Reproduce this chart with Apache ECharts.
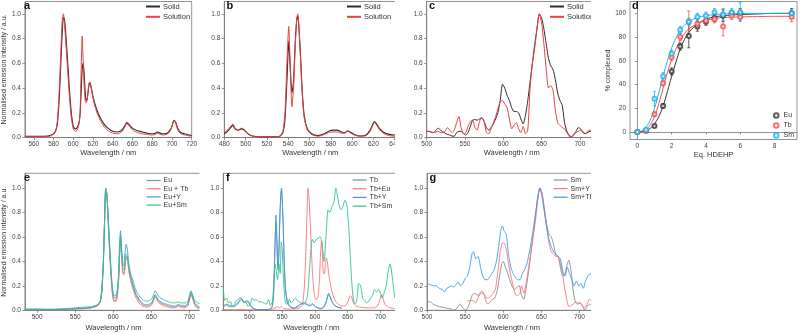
<!DOCTYPE html>
<html>
<head>
<meta charset="utf-8">
<script src="https://cdn.jsdelivr.net/npm/echarts@6/dist/echarts.min.js"></script>
<style>
  html, body { margin: 0; background: #fff; }
  #chart { width: 800px; height: 334px; }
</style>
</head>
<body>
<div id="chart"></div>
<script>
// ---- tick labels ----
var intensityTicks = [0, 0.2, 0.4, 0.6, 0.8, 1.0];
var aTicks = [560, 580, 600, 620, 640, 660, 680, 700, 720];
var bTicks = [480, 500, 520, 540, 560, 580, 600, 620, 640];
var wide50Ticks = [500, 550, 600, 650, 700];
var dxTicks = [0, 2, 4, 6, 8];
var dyTicks = [0, 20, 40, 60, 80, 100];

// ---- a: Eu, solid vs solution ----
var aWl = [551, 560, 570, 578, 582, 584, 586, 588, 589, 590, 591, 592, 594, 596, 598, 600, 602, 604, 606, 607,
  608, 609, 610, 611, 612, 613, 614, 615, 616, 617, 618, 620, 622, 625, 628, 632, 636, 640, 645, 649,
  652, 654, 656, 658, 661, 665, 670, 675, 680, 683, 685, 687, 690, 695, 698, 700, 702, 704, 706, 709, 713, 720];
var aSolid = [0.01, 0.01, 0.01, 0.02, 0.05, 0.12, 0.35, 0.72, 0.88, 0.97, 0.96, 0.88, 0.65, 0.4, 0.2, 0.09, 0.07, 0.08, 0.13, 0.2,
  0.38, 0.55, 0.6, 0.52, 0.37, 0.3, 0.31, 0.37, 0.43, 0.44, 0.41, 0.33, 0.27, 0.2, 0.15, 0.1, 0.07, 0.05, 0.045, 0.06,
  0.09, 0.12, 0.11, 0.09, 0.07, 0.055, 0.045, 0.035, 0.03, 0.035, 0.045, 0.04, 0.03, 0.035, 0.06, 0.09, 0.14, 0.12, 0.07, 0.04, 0.03, 0.015];
var aSolution = [0.005, 0.005, 0.005, 0.015, 0.05, 0.14, 0.42, 0.82, 0.97, 1.0, 0.93, 0.82, 0.58, 0.34, 0.16, 0.07, 0.05, 0.06, 0.12, 0.22,
  0.55, 0.82, 0.62, 0.42, 0.3, 0.28, 0.3, 0.37, 0.44, 0.45, 0.41, 0.32, 0.25, 0.18, 0.13, 0.08, 0.05, 0.035, 0.03, 0.045,
  0.08, 0.11, 0.1, 0.08, 0.055, 0.04, 0.03, 0.025, 0.02, 0.025, 0.035, 0.03, 0.02, 0.025, 0.05, 0.09, 0.14, 0.11, 0.06, 0.03, 0.02, 0.01];

// ---- b: Tb, solid vs solution ----
var bWl = [480, 483, 486, 488, 490, 493, 496, 498, 501, 504, 508, 515, 525, 532, 535, 537, 539, 540.5, 542, 543.5,
  545, 546.5, 548, 549, 550, 551.5, 553, 555, 558, 562, 568, 574, 578, 582, 586, 590, 593, 596, 598, 602,
  608, 613, 617, 619, 621, 623, 626, 630, 635, 640, 646];
var bSolid = [0.03, 0.05, 0.08, 0.1, 0.07, 0.06, 0.07, 0.065, 0.04, 0.02, 0.01, 0.005, 0.005, 0.01, 0.04, 0.15, 0.5, 0.78, 0.55, 0.36,
  0.45, 0.75, 0.95, 0.98, 0.9, 0.68, 0.4, 0.18, 0.07, 0.03, 0.015, 0.03, 0.05, 0.06, 0.06, 0.045, 0.04, 0.055, 0.045, 0.025,
  0.012, 0.02, 0.06, 0.1, 0.13, 0.11, 0.07, 0.04, 0.025, 0.02, 0.02];
var bSolution = [0.04, 0.06, 0.09, 0.11, 0.08, 0.06, 0.075, 0.07, 0.04, 0.02, 0.008, 0.004, 0.004, 0.01, 0.05, 0.2, 0.65, 0.9, 0.55, 0.25,
  0.4, 0.72, 0.97, 1.0, 0.9, 0.65, 0.38, 0.16, 0.06, 0.025, 0.01, 0.025, 0.04, 0.045, 0.045, 0.035, 0.035, 0.05, 0.04, 0.02,
  0.01, 0.015, 0.05, 0.09, 0.12, 0.1, 0.06, 0.03, 0.015, 0.01, 0.01];

// ---- c: Sm, solid vs solution ----
var cWl = [500, 503, 506, 509, 512, 515, 518, 521, 524, 527, 530, 533, 536, 539, 542, 545, 548, 551, 554, 557,
  560, 563, 566, 569, 572, 575, 578, 581, 584, 587, 590, 593, 596, 599, 602, 605, 608, 611, 614, 617,
  620, 623, 626, 629, 632, 635, 638, 641, 644, 647, 650, 653, 656, 659, 662, 665, 668, 671, 674, 677,
  680, 683, 686, 689, 692, 695, 698, 701, 704, 707, 710, 713, 716];
var cSolid = [0.05, 0.05, 0.045, 0.04, 0.06, 0.075, 0.06, 0.045, 0.035, 0.025, 0.02, 0.012, 0.01, 0.04, 0.05, 0.05, 0.035, 0.02, 0.04, 0.09,
  0.14, 0.145, 0.14, 0.15, 0.16, 0.13, 0.08, 0.06, 0.08, 0.11, 0.15, 0.2, 0.3, 0.43, 0.4, 0.34, 0.3, 0.24, 0.21, 0.21,
  0.2, 0.15, 0.11, 0.18, 0.3, 0.45, 0.6, 0.75, 0.88, 1.0, 0.97, 0.88, 0.76, 0.64, 0.58, 0.55, 0.47, 0.36, 0.3, 0.26,
  0.12, 0.05, 0.02, 0.005, 0.02, 0.05, 0.08, 0.07, 0.04, 0.03, 0.04, 0.05, 0.05];
var cSolution = [0.05, 0.05, 0.04, 0.04, 0.045, 0.05, 0.04, 0.04, 0.05, 0.08, 0.06, 0.04, 0.06, 0.12, 0.17, 0.08, 0.03, 0.04, 0.09, 0.13,
  0.14, 0.08, 0.06, 0.13, 0.16, 0.13, 0.04, 0.03, 0.07, 0.12, 0.17, 0.23, 0.29, 0.3, 0.27, 0.24, 0.15, 0.07, 0.1, 0.12,
  0.07, 0.04, 0.09, 0.03, 0.06, 0.4, 0.6, 0.72, 0.88, 1.0, 0.93, 0.76, 0.56, 0.4, 0.42, 0.38, 0.22, 0.12, 0.1, 0.08,
  0.07, 0.04, 0.01, 0.0, 0.03, 0.04, 0.05, 0.06, 0.05, 0.03, 0.05, 0.06, 0.05];

// ---- d: titration, % complexed vs Eq. HDEHP ----
var dEq = [0, 0.5, 1, 1.5, 2, 2.5, 3, 3.5, 4, 4.5, 5, 5.5, 6, 9];
var dEu = [0, 1, 5, 22, 51, 72, 81, 89, 93, 96, 98, 100, 100, 100];
var dEuErr = [1, 1, 1, 2, 3, 3, 10, 4, 3, 3, 5, 2, 4, 4];
var dTb = [0, 1, 15, 41, 63, 80, 93, 91, 94, 95, 89, 98, 97, 97];
var dTbErr = [1, 1, 2, 2, 3, 3, 9, 4, 3, 3, 8, 3, 3, 4];
var dSm = [0, 2, 28, 47, 66, 86, 93, 97, 98, 101, 99, 101, 101, 100];
var dSmErr = [1, 1, 6, 3, 3, 3, 3, 3, 3, 3, 5, 3, 8, 3];
var dFitEq = [0, 0.25, 0.5, 0.75, 1, 1.25, 1.5, 1.75, 2, 2.25, 2.5, 2.75, 3, 3.5, 4, 4.5, 5, 6, 7, 8, 9];
var dEuFit = [0, 0.3, 1, 3, 7, 13, 22, 34, 47, 59, 70, 78, 84, 91, 95, 97, 98, 99, 99.5, 100, 100];
var dTbFit = [0, 0.5, 2, 6, 13, 24, 37, 50, 61, 70, 77, 83, 87, 91, 94, 95.5, 96.5, 97, 97.3, 97.5, 97.5];
var dSmFit = [0, 1, 4, 10, 20, 33, 47, 60, 71, 79, 86, 90, 93, 96.5, 98, 99, 99.5, 100, 100, 100, 100];

// ---- e: Eu mixtures ----
var eWl = [484, 500, 510, 520, 530, 540, 550, 560, 570, 576, 580, 583, 585, 587, 588.5, 590, 591.5, 593, 595, 597,
  599, 601, 603, 605, 607, 608, 609.5, 611, 612.5, 614, 615.5, 617, 618.5, 620, 622, 625, 630, 635, 640, 645,
  650, 653, 655, 657, 660, 665, 670, 675, 680, 683, 685, 687, 690, 695, 698, 700, 702, 704, 707, 711, 716];
var eEu = [0.005, 0.005, 0.005, 0.005, 0.008, 0.01, 0.012, 0.015, 0.02, 0.03, 0.04, 0.07, 0.15, 0.38, 0.7, 0.98, 0.95, 0.78, 0.52, 0.3,
  0.14, 0.08, 0.08, 0.11, 0.25, 0.4, 0.57, 0.45, 0.32, 0.3, 0.36, 0.43, 0.42, 0.35, 0.28, 0.21, 0.12, 0.07, 0.04, 0.035,
  0.05, 0.09, 0.12, 0.1, 0.07, 0.05, 0.04, 0.03, 0.025, 0.03, 0.04, 0.035, 0.03, 0.03, 0.05, 0.09, 0.14, 0.11, 0.05, 0.025, 0.015];
var eEuTb = [0.005, 0.005, 0.005, 0.005, 0.005, 0.008, 0.01, 0.012, 0.018, 0.028, 0.04, 0.07, 0.16, 0.4, 0.72, 1.0, 0.95, 0.76, 0.5, 0.28,
  0.12, 0.07, 0.07, 0.1, 0.24, 0.4, 0.6, 0.44, 0.3, 0.29, 0.36, 0.44, 0.43, 0.34, 0.26, 0.19, 0.1, 0.05, 0.03, 0.025,
  0.04, 0.08, 0.11, 0.09, 0.06, 0.04, 0.03, 0.02, 0.02, 0.025, 0.035, 0.03, 0.02, 0.02, 0.04, 0.08, 0.13, 0.1, 0.04, 0.015, 0.01];
var eEuY = [0.005, 0.005, 0.005, 0.006, 0.008, 0.01, 0.013, 0.017, 0.022, 0.032, 0.045, 0.08, 0.17, 0.4, 0.72, 0.97, 0.95, 0.8, 0.55, 0.32,
  0.16, 0.1, 0.1, 0.14, 0.3, 0.5, 0.65, 0.5, 0.36, 0.38, 0.47, 0.54, 0.5, 0.4, 0.31, 0.23, 0.13, 0.08, 0.05, 0.045,
  0.06, 0.1, 0.13, 0.11, 0.08, 0.06, 0.05, 0.04, 0.035, 0.04, 0.05, 0.045, 0.04, 0.04, 0.06, 0.1, 0.15, 0.12, 0.06, 0.035, 0.025];
var eEuSm = [0.01, 0.012, 0.01, 0.01, 0.012, 0.015, 0.02, 0.025, 0.03, 0.04, 0.05, 0.08, 0.17, 0.4, 0.72, 1.0, 0.96, 0.8, 0.56, 0.34,
  0.18, 0.12, 0.12, 0.15, 0.28, 0.45, 0.62, 0.48, 0.34, 0.33, 0.4, 0.46, 0.45, 0.38, 0.32, 0.26, 0.16, 0.11, 0.08, 0.075,
  0.09, 0.13, 0.16, 0.14, 0.11, 0.09, 0.075, 0.065, 0.06, 0.065, 0.07, 0.065, 0.06, 0.06, 0.08, 0.12, 0.16, 0.13, 0.08, 0.06, 0.045];

// ---- f: Tb mixtures ----
var fTbWl = [460, 465, 470, 475, 480, 483, 486, 488, 490, 493, 496, 498, 501, 504, 508, 515, 525, 532, 535, 537,
  539, 540.5, 542, 543.5, 545, 546.5, 548, 549, 550, 551.5, 553, 555, 558, 562, 568, 574, 578, 582, 586, 590,
  593, 596, 598, 602, 608, 613, 617, 619, 621, 623, 626, 630, 635, 641];
var fTb = [0.03, 0.04, 0.03, 0.03, 0.04, 0.06, 0.08, 0.09, 0.07, 0.06, 0.07, 0.065, 0.04, 0.02, 0.01, 0.005, 0.005, 0.01, 0.04, 0.15,
  0.5, 0.72, 0.5, 0.33, 0.45, 0.75, 0.95, 0.98, 0.9, 0.68, 0.4, 0.18, 0.07, 0.03, 0.015, 0.03, 0.05, 0.06, 0.06, 0.045,
  0.04, 0.055, 0.045, 0.025, 0.012, 0.02, 0.06, 0.1, 0.13, 0.11, 0.07, 0.04, 0.025, 0.02];
var fTbY = [0.04, 0.05, 0.04, 0.03, 0.05, 0.07, 0.09, 0.1, 0.075, 0.07, 0.08, 0.075, 0.05, 0.025, 0.01, 0.005, 0.005, 0.01, 0.03, 0.15,
  0.55, 0.78, 0.6, 0.36, 0.5, 0.78, 0.96, 1.0, 0.92, 0.72, 0.42, 0.18, 0.06, 0.03, 0.02, 0.035, 0.05, 0.055, 0.05, 0.04,
  0.035, 0.05, 0.04, 0.025, 0.015, 0.025, 0.07, 0.11, 0.14, 0.12, 0.075, 0.04, 0.025, 0.015];
var fEuWl = [460, 480, 500, 520, 535, 540, 543, 546, 549, 553, 560, 570, 577, 580, 582, 584, 586, 588, 589.5, 591,
  593, 595, 597, 599, 601, 603, 605, 607, 608.5, 610, 611.5, 613, 614.5, 616, 617.5, 619, 621, 624, 628, 632,
  637, 642, 647, 651, 654, 656, 659, 663, 670, 680, 690, 695, 698, 700, 702, 704, 707, 712, 722];
var fTbEu = [0.005, 0.005, 0.005, 0.005, 0.01, 0.02, 0.03, 0.02, 0.03, 0.015, 0.01, 0.012, 0.02, 0.04, 0.08, 0.2, 0.45, 0.8, 1.0, 0.92,
  0.7, 0.45, 0.25, 0.14, 0.09, 0.09, 0.12, 0.25, 0.45, 0.57, 0.45, 0.3, 0.3, 0.38, 0.43, 0.4, 0.3, 0.2, 0.12, 0.07,
  0.045, 0.035, 0.04, 0.08, 0.12, 0.11, 0.06, 0.035, 0.025, 0.02, 0.02, 0.03, 0.06, 0.1, 0.13, 0.1, 0.05, 0.025, 0.015];
var fSmWl = [460, 462, 465, 468, 471, 474, 477, 480, 483, 486, 489, 492, 495, 498, 501, 504, 507, 510, 514, 518,
  522, 526, 529, 532, 535, 537, 539, 541, 543, 545, 547, 548.5, 550, 552, 555, 558, 561, 564, 567, 570,
  573, 576, 579, 582, 585, 588, 590, 592, 594, 596, 599, 602, 605, 608, 611, 614, 617, 620, 623, 626,
  629, 632, 634, 637, 640, 643, 646, 649, 652, 655, 658, 661, 664, 667, 670, 673, 676, 679, 682, 685,
  688, 691, 694, 697, 700, 703, 706, 709, 712, 715, 718, 722];
var fTbSm = [0.18, 0.08, 0.1, 0.06, 0.07, 0.03, 0.05, 0.08, 0.09, 0.1, 0.09, 0.07, 0.06, 0.03, 0.05, 0.1, 0.08, 0.09, 0.07, 0.07,
  0.06, 0.05, 0.09, 0.04, 0.07, 0.2, 0.38, 0.32, 0.25, 0.38, 0.3, 0.56, 0.5, 0.25, 0.06, 0.05, 0.09, 0.06, 0.08, 0.1,
  0.08, 0.07, 0.06, 0.05, 0.06, 0.1, 0.2, 0.35, 0.5, 0.58, 0.55, 0.58, 0.59, 0.6, 0.55, 0.4, 0.6, 0.82, 0.8, 0.85,
  0.88, 1.0, 0.95, 0.86, 0.82, 0.85, 0.9, 0.86, 0.65, 0.35, 0.12, 0.05, 0.08, 0.22, 0.2, 0.1, 0.08, 0.06, 0.07, 0.1,
  0.12, 0.17, 0.15, 0.17, 0.14, 0.1, 0.15, 0.2, 0.32, 0.38, 0.28, 0.1];

// ---- g: Sm mixtures ----
var gSmWl = [500, 504, 508, 512, 516, 520, 524, 528, 532, 535, 538, 541, 544, 547, 550, 553, 556, 559, 562, 565,
  568, 571, 574, 577, 580, 583, 586, 589, 592, 595, 598, 600, 603, 606, 609, 612, 615, 618, 621, 624,
  627, 630, 634, 638, 642, 645, 648, 651, 654, 657, 660, 663, 666, 669, 672, 675, 678, 681, 684, 686,
  689, 692, 695, 698, 701, 704, 707, 710, 713, 716];
var gSm = [0.07, 0.07, 0.05, 0.04, 0.03, 0.025, 0.02, 0.015, 0.01, 0.0, 0.01, 0.03, 0.05, 0.02, 0.0, 0.02, 0.06, 0.12, 0.14, 0.13,
  0.12, 0.14, 0.14, 0.08, 0.05, 0.07, 0.09, 0.1, 0.16, 0.27, 0.38, 0.4, 0.35, 0.3, 0.24, 0.19, 0.17, 0.19, 0.2, 0.12,
  0.09, 0.18, 0.35, 0.55, 0.75, 0.92, 1.0, 0.95, 0.83, 0.7, 0.62, 0.6, 0.54, 0.45, 0.44, 0.35, 0.28, 0.3, 0.38, 0.41,
  0.32, 0.15, 0.06, 0.05, 0.06, 0.04, 0.0, 0.03, 0.05, 0.04];
var gYWl = [552, 555, 558, 561, 564, 567, 570, 572, 575, 578, 581, 584, 587, 590, 593, 596, 599, 601, 604, 607,
  610, 613, 616, 619, 622, 624, 627, 630, 634, 638, 642, 645, 648, 651, 654, 657, 660, 663, 666, 669,
  672, 675, 678, 680, 683, 686, 689, 692, 695, 698, 701, 704, 707, 710, 713, 716];
var gSmY = [0.07, 0.08, 0.08, 0.08, 0.06, 0.1, 0.15, 0.16, 0.13, 0.1, 0.1, 0.12, 0.14, 0.18, 0.32, 0.48, 0.55, 0.55, 0.5, 0.38,
  0.28, 0.2, 0.13, 0.12, 0.14, 0.2, 0.14, 0.22, 0.38, 0.55, 0.72, 0.88, 1.0, 0.96, 0.82, 0.68, 0.55, 0.48, 0.46, 0.44,
  0.44, 0.38, 0.3, 0.2, 0.1, 0.03, 0.04, 0.05, 0.07, 0.06, 0.06, 0.03, 0.02, 0.05, 0.09, 0.08];
var gTbWl = [500, 504, 508, 512, 516, 520, 523, 526, 529, 532, 535, 538, 541, 544, 547, 550, 553, 556, 559, 561,
  564, 567, 570, 573, 576, 579, 582, 585, 588, 591, 594, 597, 599, 601, 604, 607, 610, 613, 616, 619,
  622, 625, 628, 631, 635, 639, 643, 646, 648, 651, 654, 657, 660, 663, 666, 669, 672, 675, 678, 681,
  684, 687, 690, 693, 696, 699, 702, 705, 708, 711, 714, 717];
var gSmTb = [0.22, 0.21, 0.2, 0.2, 0.18, 0.17, 0.15, 0.18, 0.19, 0.2, 0.19, 0.21, 0.23, 0.2, 0.22, 0.26, 0.28, 0.35, 0.46, 0.48,
  0.42, 0.44, 0.36, 0.28, 0.25, 0.25, 0.27, 0.3, 0.33, 0.4, 0.52, 0.66, 0.69, 0.65, 0.62, 0.45, 0.35, 0.3, 0.27, 0.25,
  0.25, 0.3, 0.33, 0.38, 0.5, 0.65, 0.82, 0.95, 1.0, 0.92, 0.8, 0.68, 0.58, 0.52, 0.48, 0.46, 0.44, 0.42, 0.32, 0.28,
  0.35, 0.3, 0.25, 0.2, 0.24, 0.2, 0.22, 0.18, 0.24, 0.28, 0.3, 0.28];

// ---- styling ----
var FONT = 'Liberation Sans, Arial, sans-serif';
var AX = '#777';
var BLACK = '#2b2b2b', RED = '#f23b3b';
var GRAY = '#8a8a8a', PINK = '#ff7474', BLUE = '#3c9be8', GREEN = '#2ec48a';
var D_EU = '#333333', D_TB = '#ff4d4d', D_SM = '#1cb4ee';

function zip(xs, ys) {
  return xs.map(function (x, i) { return [x, ys[i]]; });
}

// grid boxes: a b c d / e f g
var grids = [
  { left: 21.7, top: 1.5, width: 170, height: 136 },
  { left: 224.3, top: 1.5, width: 172, height: 136 },
  { left: 426.7, top: 1.5, width: 170, height: 136 },
  { left: 630, top: 1.5, width: 167, height: 138 },
  { left: 22, top: 173.3, width: 180, height: 137 },
  { left: 223.3, top: 173.3, width: 176, height: 137 },
  { left: 427, top: 173.3, width: 170, height: 137 }
].map(function (g) {
  return Object.assign({ show: true, borderColor: AX, borderWidth: 0.8, containLabel: false }, g);
});

function xAxisOf(gi, min, max, ticks, name, gap, fmt) {
  return {
    type: 'value', gridIndex: gi, min: min, max: max,
    name: name, nameLocation: 'middle', nameGap: gap,
    nameTextStyle: { fontSize: 7.5, color: '#333', fontFamily: FONT },
    axisLine: { lineStyle: { color: AX, width: 0.8 } },
    axisTick: { length: 2.5, lineStyle: { color: AX, width: 0.8 }, customValues: ticks },
    axisLabel: { fontSize: 6.5, color: '#444', margin: 3.5, fontFamily: FONT, customValues: ticks, formatter: fmt },
    splitLine: { show: false }
  };
}

function yAxisOf(gi, min, max, ticks, name, gap, fmt) {
  return {
    type: 'value', gridIndex: gi, min: min, max: max,
    name: name, nameLocation: 'middle', nameGap: gap,
    nameTextStyle: { fontSize: 7, color: '#333', fontFamily: FONT },
    axisLine: { lineStyle: { color: AX, width: 0.8 } },
    axisTick: { length: 2.5, lineStyle: { color: AX, width: 0.8 }, customValues: ticks },
    axisLabel: { fontSize: 6.5, color: '#444', margin: 4, fontFamily: FONT, customValues: ticks, formatter: fmt },
    splitLine: { show: false }
  };
}

var oneDec = function (v) { return Number(v).toFixed(1); };
var intFmt = function (v) { return String(Math.round(v)); };
var WL = 'Wavelength / nm';
var YNAME = 'Normalised emission intensity / a.u.';

var xAxes = [
  xAxisOf(0, 551, 720, aTicks, WL, 11.5, intFmt),
  xAxisOf(1, 480, 641.5, bTicks, WL, 11.5, intFmt),
  xAxisOf(2, 500, 722, wide50Ticks, WL, 11.5, intFmt),
  xAxisOf(3, -0.43, 9.31, dxTicks, 'Eq. HDEHP', 11, intFmt),
  xAxisOf(4, 484, 716.5, wide50Ticks, WL, 13.5, intFmt),
  xAxisOf(5, 460, 729, wide50Ticks, WL, 13.5, intFmt),
  xAxisOf(6, 500, 723, wide50Ticks, WL, 13.5, intFmt)
];
var yAxes = [
  yAxisOf(0, 0, 1.1, intensityTicks, YNAME, 14, oneDec),
  yAxisOf(1, 0, 1.1, intensityTicks, '', 14, oneDec),
  yAxisOf(2, 0, 1.1, intensityTicks, '', 14, oneDec),
  yAxisOf(3, -6.3, 110, dyTicks, '% complexed', 17, intFmt),
  yAxisOf(4, 0, 1.12, intensityTicks, YNAME, 14, oneDec),
  yAxisOf(5, 0, 1.12, intensityTicks, '', 14, oneDec),
  yAxisOf(6, 0, 1.12, intensityTicks, '', 14, oneDec)
];

function spectrum(name, gi, xs, ys, color, width) {
  return {
    name: name, type: 'line', xAxisIndex: gi, yAxisIndex: gi,
    data: zip(xs, ys), symbol: 'none', smooth: 0.2, silent: true,
    color: color,
    lineStyle: { color: color, width: width || 1 }, itemStyle: { color: color }
  };
}

function fitLine(gi, xs, ys, color) {
  return {
    type: 'line', xAxisIndex: gi, yAxisIndex: gi, data: zip(xs, ys),
    symbol: 'none', smooth: 0.4, silent: true, z: 1,
    lineStyle: { color: color, width: 1 }
  };
}

function points(name, gi, xs, ys, color) {
  return {
    name: name, type: 'scatter', xAxisIndex: gi, yAxisIndex: gi, data: zip(xs, ys),
    symbol: 'emptyCircle', symbolSize: 4, silent: true, z: 4,
    itemStyle: { color: color, borderColor: color, borderWidth: 0.7 }
  };
}

function errorBars(gi, xs, ys, errs, color) {
  return {
    type: 'custom', xAxisIndex: gi, yAxisIndex: gi, silent: true, z: 3,
    data: xs.map(function (x, i) { return [x, ys[i] - errs[i], ys[i] + errs[i]]; }),
    encode: { x: 0, y: [1, 2] },
    renderItem: function (params, api) {
      var lo = api.coord([api.value(0), api.value(1)]);
      var hi = api.coord([api.value(0), api.value(2)]);
      var w = 1.6;
      var st = { stroke: color, lineWidth: 0.8 };
      return {
        type: 'group', children: [
          { type: 'line', shape: { x1: lo[0], y1: lo[1], x2: hi[0], y2: hi[1] }, style: st },
          { type: 'line', shape: { x1: lo[0] - w, y1: lo[1], x2: lo[0] + w, y2: lo[1] }, style: st },
          { type: 'line', shape: { x1: hi[0] - w, y1: hi[1], x2: hi[0] + w, y2: hi[1] }, style: st }
        ]
      };
    }
  };
}

var series = [
  spectrum('a|Solid', 0, aWl, aSolid, BLACK, 1.1),
  spectrum('a|Solution', 0, aWl, aSolution, RED, 1),
  spectrum('b|Solid', 1, bWl, bSolid, BLACK, 1.1),
  spectrum('b|Solution', 1, bWl, bSolution, RED, 1),
  spectrum('c|Solid', 2, cWl, cSolid, BLACK, 1),
  spectrum('c|Solution', 2, cWl, cSolution, RED, 1),

  fitLine(3, dFitEq, dEuFit, D_EU),
  fitLine(3, dFitEq, dTbFit, D_TB),
  fitLine(3, dFitEq, dSmFit, D_SM),
  errorBars(3, dEq, dEu, dEuErr, D_EU),
  errorBars(3, dEq, dTb, dTbErr, D_TB),
  errorBars(3, dEq, dSm, dSmErr, D_SM),
  points('d|Eu', 3, dEq, dEu, D_EU),
  points('d|Tb', 3, dEq, dTb, D_TB),
  points('d|Sm', 3, dEq, dSm, D_SM),

  spectrum('e|Eu', 4, eWl, eEu, GRAY, 0.9),
  spectrum('e|Eu + Tb', 4, eWl, eEuTb, PINK, 0.9),
  spectrum('e|Eu+Y', 4, eWl, eEuY, BLUE, 0.9),
  spectrum('e|Eu+Sm', 4, eWl, eEuSm, GREEN, 0.9),

  spectrum('f|Tb', 5, fTbWl, fTb, GRAY, 0.9),
  spectrum('f|Tb+Eu', 5, fEuWl, fTbEu, PINK, 0.9),
  spectrum('f|Tb+Y', 5, fTbWl, fTbY, BLUE, 0.9),
  spectrum('f|Tb+Sm', 5, fSmWl, fTbSm, GREEN, 0.9),

  spectrum('g|Sm', 6, gSmWl, gSm, GRAY, 0.9),
  spectrum('g|Sm+Y', 6, gYWl, gSmY, PINK, 0.9),
  spectrum('g|Sm+Tb', 6, gTbWl, gSmTb, BLUE, 0.9)
];

function legendOf(names, left, top, itemH, gap, lineW, fontSize) {
  return {
    data: names, left: left, top: top, orient: 'vertical', padding: 0,
    itemWidth: 14, itemHeight: itemH, itemGap: gap, selectedMode: false,
    itemStyle: { opacity: 0 },
    lineStyle: { width: lineW },
    textStyle: { fontSize: fontSize, color: '#333', fontFamily: FONT, padding: [0, 0, 0, -2] },
    formatter: function (n) { return n.split('|')[1]; }
  };
}

var legends = [
  legendOf(['a|Solid', 'a|Solution'], 145, 2.5, 7, 2.3, 2, 7.5),
  legendOf(['b|Solid', 'b|Solution'], 346, 2.5, 7, 2.3, 2, 7.5),
  legendOf(['c|Solid', 'c|Solution'], 549, 2.5, 7, 2.3, 2, 7.5),
  {
    data: ['d|Eu', 'd|Tb', 'd|Sm'], left: 773, top: 112, orient: 'vertical', padding: 0,
    itemWidth: 4.5, itemHeight: 4.5, itemGap: 3, selectedMode: false,
    itemStyle: { borderWidth: 0.7 },
    textStyle: { fontSize: 7, color: '#333', fontFamily: FONT, padding: [0, 0, 0, 0] },
    formatter: function (n) { return n.split('|')[1]; }
  },
  legendOf(['e|Eu', 'e|Eu + Tb', 'e|Eu+Y', 'e|Eu+Sm'], 146, 177, 6, 1.2, 1.2, 7),
  legendOf(['f|Tb', 'f|Tb+Eu', 'f|Tb+Y', 'f|Tb+Sm'], 352, 176.5, 7, 1.7, 1.2, 7),
  legendOf(['g|Sm', 'g|Sm+Y', 'g|Sm+Tb'], 553, 176.5, 7, 1.6, 1.2, 7)
];

var letters = [['a', 24, 0], ['b', 226.5, 0], ['c', 429, 0], ['d', 632, 0], ['e', 24, 172], ['f', 226, 172], ['g', 429.5, 172]];
var titles = letters.map(function (l) {
  return {
    text: l[0], left: l[1], top: l[2], padding: 0,
    textStyle: { fontSize: 11, fontWeight: 'bold', color: '#111', fontFamily: FONT }
  };
});

// neighbouring panels overlap the right edges of b, c, e, f, g
var covers = [[395, 0, 12, 160], [591, 0, 14, 160], [199.5, 165, 6, 169], [395, 165, 11, 169], [591, 165, 14, 169]];
var graphic = covers.map(function (r) {
  return { type: 'rect', left: r[0], top: r[1], shape: { width: r[2], height: r[3] }, style: { fill: '#fff' }, z: 100, silent: true };
});

var chart = echarts.init(document.getElementById('chart'), null, { renderer: 'canvas' });
chart.setOption({
  animation: false,
  backgroundColor: '#fff',
  textStyle: { fontFamily: FONT },
  title: titles,
  legend: legends,
  grid: grids,
  xAxis: xAxes,
  yAxis: yAxes,
  series: series,
  graphic: graphic
});
</script>
</body>
</html>
